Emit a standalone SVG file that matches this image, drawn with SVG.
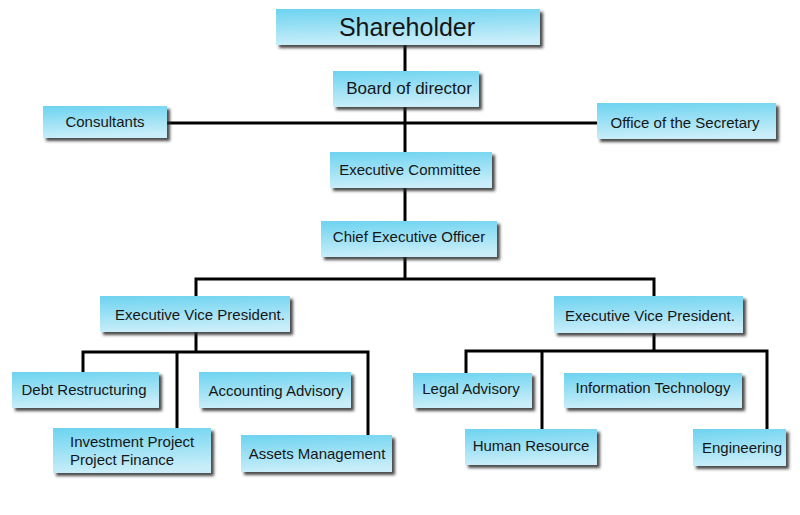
<svg xmlns="http://www.w3.org/2000/svg" width="800" height="515" viewBox="0 0 800 515">
<defs>
<linearGradient id="g" x1="0" y1="0" x2="0.15" y2="1">
<stop offset="0" stop-color="#6dd3f0"/>
<stop offset="1" stop-color="#c9eef9"/>
</linearGradient>
<filter id="sh" x="-10%" y="-20%" width="130%" height="160%">
<feDropShadow dx="3" dy="3" stdDeviation="1.4" flood-color="#2a2a2a" flood-opacity="0.85"/>
</filter>
<style>
.box{fill:url(#g);filter:url(#sh);}
.t{font-family:"Liberation Sans",Arial,sans-serif;font-size:15px;fill:#161616;text-anchor:middle;}
.c{fill:none;stroke:#000;stroke-width:3;stroke-linejoin:miter;}
</style>
</defs>
<rect width="800" height="515" fill="#fff"/>
<g id="connectors" class="c">
<path d="M405,45V71M405,107V152M405,188V221"/>
<path d="M167,123H597"/>
<path d="M405,257V279M196,296V279H654V296"/>
<path d="M196,332V352M83,372V352H368V435M177,352V428"/>
<path d="M654,333V351M466,373V351H767V429M542,351V429"/>
</g>
<g id="shareholder"><rect class="box" x="276" y="9" width="264" height="36"/><text class="t" x="407" y="36" style="font-size:25px">Shareholder</text></g>
<g id="board"><rect class="box" x="333" y="71" width="146" height="36"/><text class="t" x="409" y="94" style="font-size:17px">Board of director</text></g>
<g id="consultants"><rect class="box" x="43" y="106" width="124" height="32"/><text class="t" x="105" y="127">Consultants</text></g>
<g id="secretary"><rect class="box" x="597" y="103" width="179" height="36"/><text class="t" x="685" y="128">Office of the Secretary</text></g>
<g id="committee"><rect class="box" x="330" y="152" width="162" height="36"/><text class="t" x="410" y="175">Executive Committee</text></g>
<g id="ceo"><rect class="box" x="321" y="221" width="176" height="36"/><text class="t" x="409" y="242">Chief Executive Officer</text></g>
<g id="evp-left"><rect class="box" x="100" y="296" width="190" height="36"/><text class="t" x="200" y="320">Executive Vice President.</text></g>
<g id="evp-right"><rect class="box" x="554" y="296" width="189" height="37"/><text class="t" x="650" y="321">Executive Vice President.</text></g>
<g id="debt"><rect class="box" x="12" y="372" width="147" height="36"/><text class="t" x="84" y="395">Debt Restructuring</text></g>
<g id="accounting"><rect class="box" x="199" y="372" width="152" height="36"/><text class="t" x="276" y="396">Accounting Advisory</text></g>
<g id="investment"><rect class="box" x="53" y="428" width="158" height="45"/><text class="t" style="text-anchor:start" x="70" y="447">Investment Project</text><text class="t" style="text-anchor:start" x="70" y="465">Project Finance</text></g>
<g id="assets"><rect class="box" x="241" y="435" width="151" height="37"/><text class="t" x="317" y="459">Assets Management</text></g>
<g id="legal"><rect class="box" x="413" y="373" width="119" height="35"/><text class="t" x="471" y="394">Legal Advisory</text></g>
<g id="it"><rect class="box" x="564" y="373" width="178" height="35"/><text class="t" x="653" y="393">Information Technology</text></g>
<g id="hr"><rect class="box" x="465" y="429" width="132" height="36"/><text class="t" x="531" y="451">Human Resource</text></g>
<g id="engineering"><rect class="box" x="693" y="429" width="93" height="37"/><text class="t" x="742" y="453">Engineering</text></g>
</svg>
